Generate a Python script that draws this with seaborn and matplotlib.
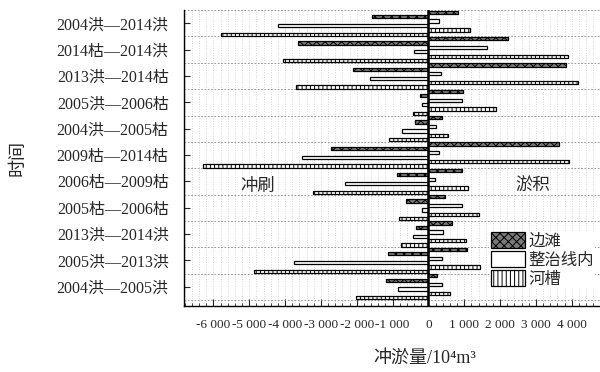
import numpy as np
import pandas as pd
import matplotlib
matplotlib.use("Agg")
import matplotlib.pyplot as plt
import seaborn as sns
from matplotlib.patches import Patch

categories = ["2004洪—2014洪", "2014枯—2014洪", "2013洪—2014枯", "2005洪—2006枯",
              "2004洪—2005枯", "2009枯—2014枯", "2006枯—2009枯", "2005枯—2006枯",
              "2013洪—2014洪", "2005洪—2013洪", "2004洪—2005洪"]

# 淤积 (positive) and 冲刷 (negative) for each part, 10^4 m^3
bt_dep = [840, 2230, 3830, 980, 370, 3650, 930, 470, 650, 1070, 250]
bt_ero = [-1580, -3650, -2090, -230, -370, -2730, -880, -630, -350, -1140, -1180]
zz_dep = [310, 1650, 350, 930, 200, 300, 190, 950, 420, 370, 370]
zz_ero = [-4200, -390, -1630, -190, -730, -3530, -2330, -170, -420, -3740, -840]
hc_dep = [1160, 3890, 4170, 1890, 540, 3930, 1100, 1410, 1040, 1440, 600]
hc_ero = [-5790, -4070, -3700, -420, -1090, -6280, -3210, -810, -770, -4880, -2020]

series_names = ["边滩", "整治线内", "河槽"]
xticks = [-6000, -5000, -4000, -3000, -2000, -1000, 0, 1000, 2000, 3000, 4000]
xtick_labels = ["-6 000", "-5 000", "-4 000", "-3 000", "-2 000", "-1 000", "0",
                "1 000", "2 000", "3 000", "4 000"]

parts = [("边滩+", bt_dep), ("边滩-", bt_ero), ("整治线内+", zz_dep),
         ("整治线内-", zz_ero), ("河槽+", hc_dep), ("河槽-", hc_ero)]
df = pd.concat([pd.DataFrame({"时间": categories, "部位": k, "值": v}) for k, v in parts],
               ignore_index=True)

sns.set_style("ticks")
plt.rcParams["font.family"] = ["Liberation Serif", "Noto Sans CJK SC"]
plt.rcParams["hatch.linewidth"] = 0.7

styles = {
    "边滩": dict(facecolor="#7a7a7a", hatch="xxxx"),
    "整治线内": dict(facecolor="white", hatch=""),
    "河槽": dict(facecolor="white", hatch="||||"),
}

fig = plt.figure(figsize=(6, 3.72), dpi=100)
ax = fig.add_axes([184 / 600, 1 - 306 / 372, 1 - 184 / 600, 296 / 372])

sns.barplot(data=df, x="值", y="时间", hue="部位", orient="h", order=categories,
            hue_order=[k for k, _ in parts], palette=["white"] * 6, width=1.0,
            gap=0.25, errorbar=None, legend=False, ax=ax)

for cont, (key, _) in zip(ax.containers, parts):
    st = styles[key[:-1]]
    for p in cont:
        p.set_facecolor(st["facecolor"])
        p.set_hatch(st["hatch"])
        p.set_edgecolor("black")
        p.set_linewidth(0.9)

ax.axvline(0, color="black", lw=1.8, zorder=5)

ax.set_xlim(-6820, 4790)
ax.set_ylim(10.73, -0.505)
ax.set_xticks(xticks, labels=xtick_labels)
ax.set_xticks(np.arange(-6800, 4800, 200), minor=True)
ax.set_yticks(np.arange(-0.5, 11, 1), minor=True)
ax.tick_params(axis="x", which="major", direction="in", length=5, width=0.8,
               labelsize=9.5, pad=9)
ax.tick_params(axis="x", which="minor", direction="in", length=2.5, width=0.6)
ax.tick_params(axis="y", which="major", direction="in", length=4, width=0.8,
               labelsize=11.5, pad=11)
ax.tick_params(axis="y", which="minor", length=0)

ax.set_axisbelow(True)
ax.grid(axis="x", which="both", color="#b0b0b0", lw=0.5, ls=(0, (1, 2.5)))
ax.grid(axis="y", which="minor", color="#888888", lw=0.6, ls=(0, (2, 2)))
ax.grid(axis="y", which="major", visible=False)

sns.despine(ax=ax, top=True, right=True)
for s in ["left", "bottom"]:
    ax.spines[s].set_linewidth(1.0)
    ax.spines[s].set_color("black")

ax.set_xlabel("冲淤量/10⁴m³", fontsize=13, labelpad=14, x=(425 - 184) / 416)
ax.set_ylabel("时间", fontsize=13, labelpad=22)

ax.text(-4750, 6.2, "冲刷", fontsize=12.5, ha="center", va="center")
ax.text(2920, 6.2, "淤积", fontsize=12.5, ha="center", va="center")

handles = [Patch(facecolor=styles[n]["facecolor"], hatch=styles[n]["hatch"],
                 edgecolor="black", linewidth=0.9, label=n) for n in series_names]
leg = ax.legend(handles=handles, loc="center left", bbox_to_anchor=(489 / 600, 1 - 260 / 372),
                bbox_transform=fig.transFigure, fontsize=11.8, frameon=True,
                handlelength=2.1, handleheight=1.1, handletextpad=0.2,
                labelspacing=0.1, borderpad=0.1, borderaxespad=0)
leg.get_frame().set_facecolor("white")
leg.get_frame().set_edgecolor("none")
leg.get_frame().set_alpha(1)

fig.savefig("out.png", dpi=100)
